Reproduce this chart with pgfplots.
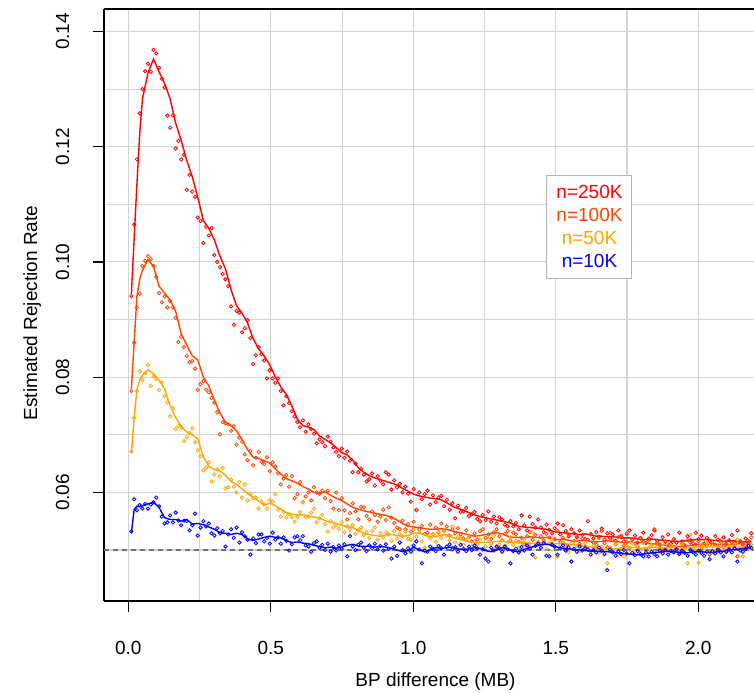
\documentclass[border=0pt]{standalone}
\usepackage{fontspec}
\setmainfont{Liberation Sans}
\usepackage{pgfplots}
\usepackage{pgfplotstable}
\pgfplotsset{compat=1.18}

\definecolor{c250}{HTML}{FF0000}
\definecolor{c100}{HTML}{FF4500}
\definecolor{c50}{HTML}{FFA500}
\definecolor{c10}{HTML}{0000FF}
\definecolor{gridgray}{HTML}{D3D3D3}
\definecolor{boxgray}{HTML}{B4B4B4}

% estimated rejection rate per bin (points): r=250K, o=100K, y=50K, b=10K
\pgfplotstableread{
x r o y b
0.0108 0.0941 0.0776 0.0671 0.0532
0.0205 0.1065 0.0860 0.0729 0.0588
0.0302 0.1178 0.0921 0.0776 0.0569
0.0399 0.1258 0.0945 0.0810 0.0578
0.0496 0.1300 0.0993 0.0795 0.0572
0.0593 0.1331 0.1002 0.0807 0.0580
0.0691 0.1344 0.1010 0.0821 0.0572
0.0788 0.1330 0.1005 0.0785 0.0579
0.0885 0.1368 0.0993 0.0802 0.0583
0.0982 0.1362 0.0974 0.0797 0.0591
0.1079 0.1337 0.0946 0.0778 0.0576
0.1176 0.1318 0.0930 0.0791 0.0558
0.1273 0.1303 0.0940 0.0767 0.0546
0.1370 0.1254 0.0921 0.0756 0.0548
0.1467 0.1233 0.0932 0.0732 0.0560
0.1564 0.1254 0.0921 0.0746 0.0548
0.1662 0.1197 0.0903 0.0710 0.0565
0.1759 0.1210 0.0861 0.0715 0.0551
0.1856 0.1178 0.0870 0.0713 0.0543
0.1953 0.1186 0.0852 0.0689 0.0551
0.2050 0.1125 0.0837 0.0696 0.0550
0.2147 0.1151 0.0826 0.0703 0.0534
0.2244 0.1122 0.0828 0.0711 0.0543
0.2341 0.1113 0.0815 0.0687 0.0563
0.2438 0.1077 0.0778 0.0673 0.0525
0.2535 0.1071 0.0788 0.0663 0.0539
0.2633 0.1033 0.0793 0.0638 0.0550
0.2730 0.1061 0.0778 0.0643 0.0541
0.2827 0.1046 0.0774 0.0652 0.0546
0.2924 0.1059 0.0764 0.0619 0.0529
0.3021 0.1012 0.0756 0.0631 0.0525
0.3118 0.1000 0.0739 0.0640 0.0538
0.3215 0.0991 0.0701 0.0628 0.0529
0.3312 0.0979 0.0722 0.0642 0.0533
0.3409 0.0970 0.0720 0.0607 0.0506
0.3506 0.0958 0.0718 0.0609 0.0527
0.3604 0.0923 0.0707 0.0622 0.0536
0.3701 0.0891 0.0715 0.0610 0.0521
0.3798 0.0915 0.0683 0.0600 0.0539
0.3895 0.0912 0.0695 0.0618 0.0513
0.3992 0.0878 0.0688 0.0591 0.0531
0.4089 0.0885 0.0666 0.0614 0.0524
0.4186 0.0899 0.0656 0.0586 0.0518
0.4283 0.0868 0.0672 0.0597 0.0492
0.4380 0.0823 0.0647 0.0590 0.0520
0.4477 0.0838 0.0660 0.0591 0.0512
0.4575 0.0852 0.0670 0.0572 0.0527
0.4672 0.0840 0.0653 0.0584 0.0527
0.4769 0.0829 0.0649 0.0579 0.0515
0.4866 0.0798 0.0661 0.0572 0.0521
0.4963 0.0812 0.0637 0.0586 0.0511
0.5060 0.0798 0.0652 0.0584 0.0530
0.5157 0.0790 0.0645 0.0597 0.0518
0.5254 0.0798 0.0633 0.0570 0.0522
0.5351 0.0776 0.0614 0.0558 0.0511
0.5448 0.0751 0.0624 0.0566 0.0522
0.5546 0.0767 0.0630 0.0557 0.0516
0.5643 0.0755 0.0610 0.0562 0.0499
0.5740 0.0741 0.0628 0.0557 0.0510
0.5837 0.0732 0.0590 0.0549 0.0522
0.5933 0.0722 0.0597 0.0558 0.0524
0.6030 0.0713 0.0618 0.0566 0.0517
0.6127 0.0725 0.0583 0.0583 0.0524
0.6224 0.0705 0.0593 0.0558 0.0508
0.6321 0.0718 0.0600 0.0558 0.0506
0.6418 0.0710 0.0586 0.0565 0.0497
0.6516 0.0702 0.0609 0.0572 0.0512
0.6613 0.0685 0.0600 0.0548 0.0515
0.6710 0.0692 0.0598 0.0555 0.0504
0.6807 0.0687 0.0603 0.0561 0.0509
0.6904 0.0680 0.0590 0.0545 0.0500
0.7001 0.0697 0.0603 0.0532 0.0511
0.7098 0.0688 0.0585 0.0550 0.0497
0.7195 0.0678 0.0572 0.0539 0.0505
0.7292 0.0670 0.0600 0.0544 0.0499
0.7389 0.0663 0.0569 0.0537 0.0508
0.7487 0.0676 0.0590 0.0548 0.0502
0.7584 0.0660 0.0569 0.0531 0.0510
0.7681 0.0671 0.0553 0.0541 0.0489
0.7778 0.0655 0.0564 0.0536 0.0524
0.7875 0.0635 0.0581 0.0543 0.0506
0.7972 0.0650 0.0567 0.0528 0.0500
0.8069 0.0635 0.0553 0.0534 0.0509
0.8166 0.0641 0.0575 0.0539 0.0513
0.8263 0.0631 0.0574 0.0526 0.0504
0.8360 0.0619 0.0559 0.0531 0.0498
0.8458 0.0623 0.0553 0.0521 0.0508
0.8555 0.0633 0.0567 0.0533 0.0503
0.8652 0.0612 0.0561 0.0539 0.0511
0.8749 0.0628 0.0549 0.0518 0.0501
0.8846 0.0620 0.0558 0.0529 0.0507
0.8943 0.0614 0.0570 0.0522 0.0499
0.9040 0.0635 0.0552 0.0531 0.0510
0.9137 0.0631 0.0574 0.0527 0.0502
0.9234 0.0605 0.0556 0.0516 0.0485
0.9331 0.0621 0.0547 0.0533 0.0506
0.9429 0.0609 0.0539 0.0520 0.0490
0.9526 0.0615 0.0536 0.0528 0.0513
0.9623 0.0600 0.0551 0.0524 0.0500
0.9720 0.0610 0.0536 0.0532 0.0494
0.9817 0.0598 0.0545 0.0519 0.0503
0.9914 0.0584 0.0532 0.0518 0.0497
1.0011 0.0606 0.0549 0.0536 0.0508
1.0108 0.0569 0.0570 0.0523 0.0515
1.0205 0.0600 0.0536 0.0531 0.0501
1.0302 0.0588 0.0542 0.0515 0.0477
1.0400 0.0597 0.0528 0.0504 0.0499
1.0497 0.0603 0.0530 0.0526 0.0497
1.0594 0.0579 0.0544 0.0520 0.0506
1.0691 0.0595 0.0527 0.0527 0.0502
1.0788 0.0583 0.0539 0.0514 0.0498
1.0885 0.0591 0.0531 0.0530 0.0507
1.0982 0.0594 0.0546 0.0521 0.0503
1.1079 0.0576 0.0533 0.0533 0.0492
1.1176 0.0587 0.0541 0.0525 0.0506
1.1273 0.0570 0.0525 0.0517 0.0510
1.1371 0.0581 0.0536 0.0541 0.0501
1.1468 0.0555 0.0529 0.0513 0.0505
1.1565 0.0577 0.0538 0.0522 0.0497
1.1662 0.0566 0.0527 0.0520 0.0509
1.1759 0.0567 0.0520 0.0509 0.0502
1.1856 0.0573 0.0534 0.0517 0.0498
1.1953 0.0559 0.0522 0.0523 0.0506
1.2050 0.0562 0.0515 0.0506 0.0500
1.2147 0.0566 0.0529 0.0515 0.0508
1.2244 0.0554 0.0518 0.0510 0.0503
1.2342 0.0550 0.0533 0.0518 0.0492
1.2439 0.0561 0.0536 0.0502 0.0501
1.2536 0.0552 0.0521 0.0506 0.0485
1.2633 0.0567 0.0527 0.0519 0.0480
1.2730 0.0549 0.0519 0.0511 0.0504
1.2827 0.0558 0.0531 0.0525 0.0499
1.2924 0.0546 0.0536 0.0504 0.0506
1.3021 0.0557 0.0524 0.0510 0.0503
1.3118 0.0553 0.0517 0.0517 0.0497
1.3215 0.0544 0.0528 0.0508 0.0506
1.3313 0.0541 0.0533 0.0514 0.0501
1.3410 0.0550 0.0516 0.0522 0.0477
1.3507 0.0541 0.0530 0.0509 0.0498
1.3604 0.0547 0.0527 0.0516 0.0502
1.3701 0.0536 0.0514 0.0504 0.0496
1.3798 0.0560 0.0521 0.0513 0.0505
1.3895 0.0543 0.0510 0.0519 0.0499
1.3992 0.0534 0.0524 0.0506 0.0508
1.4089 0.0558 0.0531 0.0511 0.0503
1.4186 0.0545 0.0518 0.0530 0.0492
1.4284 0.0539 0.0526 0.0487 0.0507
1.4381 0.0553 0.0512 0.0514 0.0511
1.4478 0.0539 0.0524 0.0508 0.0504
1.4575 0.0531 0.0517 0.0515 0.0512
1.4672 0.0544 0.0528 0.0502 0.0490
1.4769 0.0535 0.0522 0.0512 0.0489
1.4866 0.0529 0.0511 0.0518 0.0509
1.4963 0.0538 0.0519 0.0505 0.0506
1.5060 0.0546 0.0533 0.0489 0.0492
1.5157 0.0527 0.0514 0.0509 0.0503
1.5255 0.0543 0.0521 0.0513 0.0508
1.5352 0.0533 0.0508 0.0503 0.0499
1.5449 0.0524 0.0527 0.0496 0.0505
1.5546 0.0536 0.0480 0.0511 0.0480
1.5642 0.0529 0.0516 0.0515 0.0502
1.5739 0.0522 0.0524 0.0507 0.0497
1.5836 0.0534 0.0511 0.0498 0.0506
1.5933 0.0526 0.0520 0.0504 0.0499
1.6030 0.0519 0.0506 0.0512 0.0503
1.6127 0.0550 0.0518 0.0501 0.0501
1.6225 0.0528 0.0527 0.0497 0.0492
1.6322 0.0520 0.0513 0.0508 0.0500
1.6419 0.0531 0.0509 0.0503 0.0496
1.6516 0.0523 0.0521 0.0495 0.0504
1.6613 0.0537 0.0533 0.0506 0.0499
1.6710 0.0518 0.0512 0.0499 0.0493
1.6807 0.0529 0.0505 0.0477 0.0465
1.6904 0.0521 0.0530 0.0504 0.0501
1.7001 0.0527 0.0517 0.0498 0.0496
1.7098 0.0516 0.0510 0.0510 0.0490
1.7196 0.0534 0.0522 0.0492 0.0498
1.7293 0.0522 0.0525 0.0502 0.0493
1.7390 0.0515 0.0508 0.0489 0.0500
1.7487 0.0528 0.0514 0.0507 0.0494
1.7584 0.0534 0.0503 0.0501 0.0477
1.7681 0.0519 0.0518 0.0511 0.0495
1.7778 0.0525 0.0511 0.0497 0.0491
1.7875 0.0513 0.0506 0.0505 0.0498
1.7972 0.0521 0.0520 0.0500 0.0493
1.8069 0.0530 0.0514 0.0512 0.0489
1.8167 0.0512 0.0502 0.0489 0.0496
1.8264 0.0520 0.0517 0.0503 0.0489
1.8361 0.0526 0.0509 0.0509 0.0497
1.8458 0.0534 0.0536 0.0497 0.0493
1.8555 0.0516 0.0512 0.0506 0.0489
1.8652 0.0509 0.0504 0.0500 0.0499
1.8749 0.0522 0.0501 0.0511 0.0494
1.8846 0.0514 0.0515 0.0495 0.0500
1.8943 0.0527 0.0508 0.0501 0.0492
1.9040 0.0511 0.0506 0.0508 0.0498
1.9138 0.0519 0.0519 0.0499 0.0496
1.9235 0.0513 0.0503 0.0505 0.0501
1.9332 0.0530 0.0496 0.0494 0.0493
1.9429 0.0515 0.0511 0.0510 0.0499
1.9526 0.0508 0.0505 0.0502 0.0495
1.9623 0.0524 0.0517 0.0477 0.0490
1.9720 0.0517 0.0513 0.0527 0.0500
1.9817 0.0512 0.0502 0.0503 0.0496
1.9914 0.0530 0.0509 0.0498 0.0492
2.0011 0.0519 0.0515 0.0478 0.0499
2.0109 0.0525 0.0504 0.0509 0.0495
2.0206 0.0511 0.0512 0.0504 0.0490
2.0303 0.0521 0.0507 0.0512 0.0497
2.0400 0.0516 0.0492 0.0499 0.0484
2.0497 0.0508 0.0514 0.0507 0.0498
2.0594 0.0524 0.0509 0.0498 0.0494
2.0691 0.0518 0.0503 0.0506 0.0500
2.0788 0.0512 0.0516 0.0511 0.0496
2.0885 0.0522 0.0506 0.0502 0.0489
2.0982 0.0510 0.0511 0.0496 0.0497
2.1080 0.0517 0.0500 0.0508 0.0501
2.1177 0.0526 0.0513 0.0503 0.0496
2.1274 0.0513 0.0507 0.0510 0.0503
2.1371 0.0534 0.0489 0.0518 0.0480
2.1468 0.0515 0.0514 0.0500 0.0499
2.1565 0.0509 0.0510 0.0489 0.0497
2.1662 0.0520 0.0503 0.0507 0.0502
2.1759 0.0513 0.0516 0.0502 0.0507
2.1856 0.0529 0.0522 0.0509 0.0504
}\pts

% running means (lines)
\pgfplotstableread{
x r o y b
0.0108 0.0945 0.0780 0.0668 0.0530
0.0205 0.1040 0.0860 0.0730 0.0570
0.0302 0.1135 0.0940 0.0778 0.0576
0.0399 0.1222 0.0970 0.0795 0.0575
0.0496 0.1283 0.0985 0.0803 0.0577
0.0691 0.1328 0.1004 0.0813 0.0580
0.0885 0.1352 0.0992 0.0806 0.0583
0.1079 0.1330 0.0958 0.0795 0.0574
0.1273 0.1310 0.0946 0.0780 0.0556
0.1467 0.1283 0.0934 0.0750 0.0553
0.1662 0.1241 0.0914 0.0730 0.0553
0.1856 0.1211 0.0875 0.0714 0.0550
0.2050 0.1176 0.0856 0.0705 0.0553
0.2244 0.1148 0.0837 0.0700 0.0545
0.2438 0.1112 0.0830 0.0693 0.0546
0.2633 0.1072 0.0800 0.0662 0.0544
0.2827 0.1058 0.0785 0.0645 0.0540
0.3021 0.1038 0.0760 0.0640 0.0536
0.3215 0.1010 0.0738 0.0637 0.0530
0.3409 0.0988 0.0722 0.0630 0.0529
0.3604 0.0952 0.0716 0.0619 0.0527
0.3798 0.0924 0.0707 0.0614 0.0529
0.3992 0.0911 0.0692 0.0606 0.0527
0.4186 0.0894 0.0674 0.0598 0.0519
0.4380 0.0867 0.0661 0.0592 0.0517
0.4575 0.0849 0.0659 0.0585 0.0519
0.4769 0.0837 0.0655 0.0578 0.0522
0.4963 0.0821 0.0651 0.0581 0.0524
0.5157 0.0801 0.0641 0.0577 0.0522
0.5351 0.0783 0.0632 0.0571 0.0521
0.5546 0.0770 0.0624 0.0565 0.0516
0.5740 0.0750 0.0620 0.0562 0.0513
0.5933 0.0727 0.0616 0.0561 0.0514
0.6127 0.0716 0.0610 0.0561 0.0512
0.6321 0.0713 0.0606 0.0559 0.0511
0.6516 0.0709 0.0600 0.0557 0.0508
0.6710 0.0698 0.0598 0.0556 0.0506
0.6904 0.0692 0.0601 0.0551 0.0504
0.7098 0.0686 0.0595 0.0548 0.0505
0.7292 0.0678 0.0590 0.0546 0.0503
0.7487 0.0669 0.0586 0.0543 0.0505
0.7681 0.0665 0.0580 0.0541 0.0508
0.7875 0.0656 0.0574 0.0539 0.0510
0.8069 0.0643 0.0571 0.0534 0.0507
0.8263 0.0635 0.0568 0.0529 0.0506
0.8458 0.0629 0.0566 0.0527 0.0507
0.8652 0.0625 0.0564 0.0525 0.0505
0.8846 0.0622 0.0562 0.0524 0.0506
0.9040 0.0619 0.0560 0.0526 0.0505
0.9234 0.0616 0.0557 0.0527 0.0503
0.9429 0.0613 0.0552 0.0525 0.0500
0.9623 0.0607 0.0546 0.0524 0.0497
0.9817 0.0602 0.0541 0.0525 0.0499
1.0011 0.0597 0.0540 0.0529 0.0505
1.0205 0.0594 0.0539 0.0529 0.0500
1.0400 0.0592 0.0537 0.0526 0.0497
1.0594 0.0590 0.0536 0.0523 0.0500
1.0788 0.0589 0.0536 0.0523 0.0504
1.0982 0.0587 0.0537 0.0526 0.0503
1.1176 0.0582 0.0536 0.0527 0.0504
1.1371 0.0576 0.0533 0.0522 0.0505
1.1565 0.0572 0.0531 0.0519 0.0502
1.1759 0.0569 0.0529 0.0517 0.0501
1.1953 0.0565 0.0526 0.0514 0.0502
1.2147 0.0561 0.0524 0.0513 0.0504
1.2342 0.0558 0.0525 0.0513 0.0503
1.2536 0.0556 0.0527 0.0513 0.0499
1.2730 0.0554 0.0529 0.0514 0.0497
1.2924 0.0552 0.0530 0.0515 0.0500
1.3118 0.0550 0.0528 0.0515 0.0504
1.3313 0.0548 0.0524 0.0514 0.0502
1.3507 0.0545 0.0522 0.0513 0.0498
1.3701 0.0541 0.0522 0.0512 0.0497
1.3895 0.0540 0.0521 0.0514 0.0501
1.4089 0.0539 0.0523 0.0512 0.0504
1.4284 0.0538 0.0522 0.0511 0.0507
1.4478 0.0537 0.0521 0.0513 0.0509
1.4672 0.0536 0.0522 0.0512 0.0510
1.4866 0.0533 0.0520 0.0510 0.0508
1.5060 0.0531 0.0518 0.0511 0.0505
1.5255 0.0530 0.0519 0.0512 0.0503
1.5449 0.0529 0.0517 0.0510 0.0502
1.5642 0.0528 0.0515 0.0509 0.0501
1.5836 0.0527 0.0516 0.0508 0.0500
1.6030 0.0528 0.0517 0.0506 0.0499
1.6225 0.0526 0.0515 0.0505 0.0498
1.6419 0.0524 0.0514 0.0503 0.0498
1.6613 0.0524 0.0515 0.0502 0.0497
1.6807 0.0523 0.0516 0.0501 0.0497
1.7001 0.0523 0.0515 0.0502 0.0496
1.7196 0.0522 0.0514 0.0503 0.0495
1.7390 0.0521 0.0513 0.0504 0.0494
1.7584 0.0521 0.0514 0.0505 0.0493
1.7778 0.0520 0.0513 0.0504 0.0492
1.7972 0.0518 0.0513 0.0503 0.0492
1.8167 0.0518 0.0512 0.0504 0.0494
1.8361 0.0519 0.0511 0.0505 0.0495
1.8555 0.0518 0.0510 0.0504 0.0496
1.8749 0.0517 0.0509 0.0503 0.0497
1.8943 0.0516 0.0508 0.0504 0.0498
1.9138 0.0515 0.0507 0.0505 0.0497
1.9332 0.0515 0.0506 0.0504 0.0496
1.9526 0.0516 0.0507 0.0503 0.0495
1.9720 0.0517 0.0508 0.0504 0.0496
1.9914 0.0518 0.0509 0.0505 0.0497
2.0109 0.0518 0.0510 0.0506 0.0497
2.0303 0.0518 0.0510 0.0506 0.0496
2.0497 0.0517 0.0511 0.0506 0.0496
2.0691 0.0516 0.0510 0.0505 0.0497
2.0885 0.0515 0.0510 0.0504 0.0498
2.1080 0.0516 0.0509 0.0505 0.0500
2.1274 0.0516 0.0510 0.0506 0.0501
2.1468 0.0515 0.0511 0.0505 0.0502
2.1662 0.0514 0.0510 0.0504 0.0503
2.1856 0.0515 0.0510 0.0505 0.0504
}\smooth

\begin{document}
\begin{tikzpicture}
\begin{axis}[
  scale only axis, width=650pt, height=592pt,
  xmin=-0.0853, xmax=2.1955, ymin=0.04115, ymax=0.1439,
  axis lines*=left,
  axis line style={line width=1.3pt, black},
  tick align=outside, major tick length=11pt, minor tick length=0pt,
  every tick/.style={line width=1.3pt, black},
  xtick={0,0.5,1,1.5,2}, xticklabels={0.0,0.5,1.0,1.5,2.0},
  ytick={0.06,0.08,0.10,0.12,0.14}, yticklabels={0.06,0.08,0.10,0.12,0.14},
  minor xtick={0.25,0.75,1.25,1.75},
  minor ytick={0.05,0.07,0.09,0.11,0.13},
  grid=both,
  major grid style={gridgray, line width=1.1pt},
  minor grid style={gridgray, line width=1.1pt},
  tick label style={font=\fontsize{19}{23}\selectfont},
  label style={font=\fontsize{19}{23}\selectfont},
  xticklabel style={anchor=base, yshift=-42pt},
  yticklabel style={anchor=base, xshift=-24pt, rotate=90},
  xlabel={BP difference (MB)},
  ylabel={Estimated Rejection Rate},
  xlabel style={at={(axis description cs:0.51,0)}, anchor=base, yshift=-85pt},
  ylabel style={at={(axis description cs:-0.103,0.4865)}, anchor=base},
  clip mode=individual,
]
\coordinate (sw) at (rel axis cs:0,0);
\coordinate (ne) at (rel axis cs:1,1);

\addplot[color=gray!90!black, line width=1.4pt, dash pattern=on 5pt off 4pt] coordinates {(-0.0853,0.05) (2.1955,0.05)};

\addplot[only marks, mark=o, mark size=1.7pt, c250, mark options={line width=0.8pt}] table[x=x, y=r] {\pts};
\addplot[c250, line width=1.4pt] table[x=x, y=r] {\smooth};
\addplot[only marks, mark=o, mark size=1.7pt, c100, mark options={line width=0.8pt}] table[x=x, y=o] {\pts};
\addplot[c100, line width=1.4pt] table[x=x, y=o] {\smooth};
\addplot[only marks, mark=o, mark size=1.7pt, c50, mark options={line width=0.8pt}] table[x=x, y=y] {\pts};
\addplot[c50, line width=1.4pt] table[x=x, y=y] {\smooth};
\addplot[only marks, mark=o, mark size=1.7pt, c10, mark options={line width=0.8pt}] table[x=x, y=b] {\pts};
\addplot[c10, line width=1.4pt] table[x=x, y=b] {\smooth};

\draw[line width=1.3pt, black] (rel axis cs:0,1) -- (rel axis cs:1,1);

\node[draw=boxgray, line width=1pt, fill=white, minimum width=85pt, minimum height=103pt,
      align=center, inner sep=0pt, font=\fontsize{19}{22.7}\selectfont]
  at (rel axis cs:0.7469,0.6326)
  {\textcolor{c250}{n=250K}\\\textcolor{c100}{n=100K}\\\textcolor{c50}{n=50K}\\\textcolor{c10}{n=10K}};
\end{axis}
\pgfresetboundingbox
\path[use as bounding box] ([shift={(-104pt,-91pt)}]sw) rectangle ([shift={(0pt,9pt)}]ne);
\end{tikzpicture}
\end{document}
